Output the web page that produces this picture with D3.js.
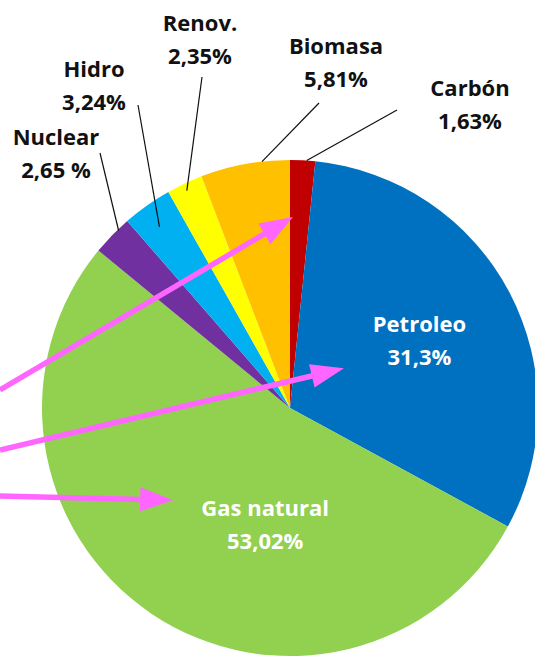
<!DOCTYPE html>
<html>
<head>
<meta charset="utf-8">
<script src="https://cdn.jsdelivr.net/npm/d3@7"></script>
<style>
  body { margin: 0; background: #fff; }
  text { font-family: "Open Sans", Lato, sans-serif; font-weight: bold; }
</style>
</head>
<body>
<svg width="535" height="657"></svg>
<script>
// data
const sources = ['Carbón', 'Petroleo', 'Gas natural', 'Nuclear', 'Hidro', 'Renov.', 'Biomasa'];
const shares = [1.63, 31.3, 53.02, 2.65, 3.24, 2.35, 5.81];
const shareLabels = ['1,63%', '31,3%', '53,02%', '2,65 %', '3,24%', '2,35%', '5,81%'];
const colors = ['#c00000', '#0070c0', '#92d050', '#7030a0', '#00b0f0', '#ffff00', '#ffc000'];

// layout
var svg = d3.select('svg'),
  cx = 290, cy = 408, R = 248;

// f = position inside the slice (0..1 of its angle), r = fraction of radius
var innerLabels = [
  {i: 1, f: 0.5, r: 0.59},
  {i: 2, f: 0.385, r: 0.48}
];
var outerLabels = [
  {i: 0, x: 470, y: 96, lx: 397, ly: 110, f: 0.66, r: 1.0},
  {i: 6, x: 336, y: 54, lx: 319, ly: 103, f: 0.69, r: 1.0},
  {i: 5, x: 200, y: 31, lx: 202, ly: 77, f: 0.47, r: 0.97},
  {i: 4, x: 94, y: 77, lx: 138, ly: 105, f: 0.45, r: 0.9},
  {i: 3, x: 56, y: 145, lx: 100, ly: 153, f: 0.69, r: 0.995}
];
var arrows = [
  {i: 0, f: 0.15, r: 0.77, y0: 390},
  {i: 1, f: 0.424, r: 0.27, y0: 450},
  {i: 2, f: 0.593, r: 0.6, y0: 496}
];

var pie = d3.pie().sort(null).value(d => d)(shares);
var arc = d3.arc().innerRadius(0).outerRadius(R);

// point inside slice i
const polar = (i, f, r) => {
  var s = pie[i];
  var a = s.startAngle + f * (s.endAngle - s.startAngle);
  return [cx + r * R * Math.sin(a), cy - r * R * Math.cos(a)];
};

var g = svg.append('g').attr('transform', `translate(${cx},${cy})`);

g.selectAll('path')
  .data(pie)
  .enter()
  .append('path')
  .attr('d', arc)
  .style('fill', (d, i) => colors[i]);

// leader lines + outer labels
outerLabels.forEach(o => {
  var p = polar(o.i, o.f, o.r);
  svg.append('line')
    .attr('x1', o.lx).attr('y1', o.ly)
    .attr('x2', p[0]).attr('y2', p[1])
    .style('stroke', '#111').style('stroke-width', 1.2);

  var t = svg.append('text')
    .attr('text-anchor', 'middle')
    .style('font-size', '22px')
    .style('fill', '#111');
  t.append('tspan').attr('x', o.x).attr('y', o.y).text(sources[o.i]);
  t.append('tspan').attr('x', o.x).attr('y', o.y + 33).text(shareLabels[o.i]);
});

// labels inside the big slices
innerLabels.forEach(o => {
  var p = polar(o.i, o.f, o.r);
  var t = svg.append('text')
    .attr('text-anchor', 'middle')
    .style('font-size', '22px')
    .style('fill', '#fff');
  t.append('tspan').attr('x', p[0]).attr('y', p[1] - 8).text(sources[o.i]);
  t.append('tspan').attr('x', p[0]).attr('y', p[1] + 25).text(shareLabels[o.i]);
});

// pink arrows
var pink = '#ff66ff';
arrows.forEach(a => {
  var tip = polar(a.i, a.f, a.r);
  var dx = tip[0], dy = tip[1] - a.y0;
  var len = Math.hypot(dx, dy);
  var ux = dx / len, uy = dy / len;
  var hl = 33, hw = 12;
  var bx = tip[0] - ux * hl, by = tip[1] - uy * hl;

  svg.append('line')
    .attr('x1', 0).attr('y1', a.y0)
    .attr('x2', bx + ux * 2).attr('y2', by + uy * 2)
    .style('stroke', pink).style('stroke-width', 5.5);

  svg.append('path')
    .attr('d', `M${tip[0]},${tip[1]} L${bx - uy * hw},${by + ux * hw} L${bx + uy * hw},${by - ux * hw} Z`)
    .style('fill', pink);
});
</script>
</body>
</html>
